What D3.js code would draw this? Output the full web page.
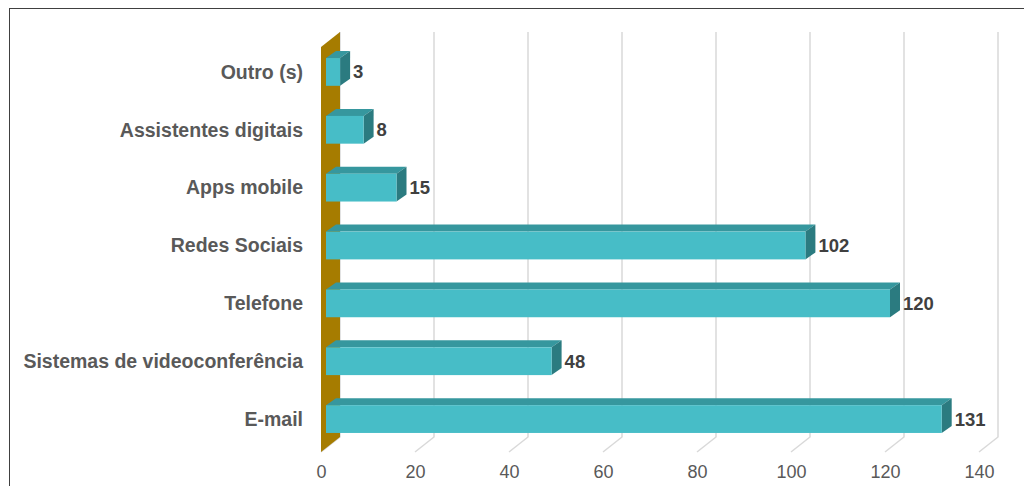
<!DOCTYPE html>
<html><head><meta charset="utf-8">
<script src="https://cdn.jsdelivr.net/npm/d3@7"></script>
<style>html,body{margin:0;padding:0;background:#fff;}svg{display:block;}</style>
</head><body>
<svg id="chart" width="1024" height="486"></svg>
<script>
const categories = ["Outro (s)", "Assistentes digitais", "Apps mobile", "Redes Sociais", "Telefone", "Sistemas de videoconferência", "E-mail"];
const values = [3, 8, 15, 102, 120, 48, 131];
const ticks = [0, 20, 40, 60, 80, 100, 120, 140];

const svg = d3.select("#chart");
const FONT = "'Liberation Sans', Arial, sans-serif";
svg.append("rect").attr("x", 9.5).attr("y", 8.5).attr("width", 1030).attr("height", 500)
  .attr("fill", "#fff").attr("stroke", "#404040").attr("stroke-width", 1);

// front plane geometry
const x = d3.scaleLinear().domain([0, 140]).range([321, 321 + 140 * 4.7]);
const y = d3.scaleBand().domain(categories).range([47, 452]).paddingInner(0.52).paddingOuter(0.26);
const depth = {dx: 19, dy: -15};      // wall depth
const barOff = {dx: 5, dy: -4};       // bar front offset from front plane
const barDepth = {dx: 10, dy: -7};    // bar depth
const yTop = 47, yBot = 452;

// gridlines (back plane + floor)
const g = svg.append("g");
ticks.forEach(t => {
  const xf = x(t), xb = x(t) + depth.dx;
  g.append("path")
    .attr("d", `M${xb},${yTop + depth.dy} L${xb},${yBot + depth.dy} L${xf},${yBot}`)
    .attr("fill", "none").attr("stroke", "#d9d9d9").attr("stroke-width", 1.5);
});

// wall
svg.append("path")
  .attr("d", `M${x(0)},${yTop} L${x(0) + depth.dx},${yTop + depth.dy} L${x(0) + depth.dx},${yBot + depth.dy} L${x(0)},${yBot} Z`)
  .attr("fill", "#a67c00");

// bars
const bars = svg.append("g");
categories.forEach((c, i) => {
  const v = values[i];
  const x0 = x(0) + barOff.dx, x1 = x(v) + barOff.dx;
  const y0 = y(c) + barOff.dy, y1 = y0 + y.bandwidth();
  const dx = barDepth.dx, dy = barDepth.dy;
  bars.append("path").attr("d", `M${x0},${y0} L${x0 + dx},${y0 + dy} L${x1 + dx},${y0 + dy} L${x1},${y0} Z`).attr("fill", "#36979e");
  bars.append("path").attr("d", `M${x1},${y0} L${x1 + dx},${y0 + dy} L${x1 + dx},${y1 + dy} L${x1},${y1} Z`).attr("fill", "#2b7b80");
  bars.append("rect").attr("x", x0).attr("y", y0).attr("width", x1 - x0).attr("height", y.bandwidth()).attr("fill", "#47bdc7");
  bars.append("text").attr("x", x1 + dx + 3).attr("y", y0 + y.bandwidth() / 2)
    .attr("dy", "0.35em").attr("font-family", FONT)
    .attr("font-weight", "bold").attr("font-size", 18.5).attr("fill", "#404040").text(v);
  svg.append("text").attr("x", 303).attr("y", y0 + y.bandwidth() / 2)
    .attr("dy", "0.35em").attr("text-anchor", "end")
    .attr("font-family", FONT)
    .attr("font-weight", "bold").attr("font-size", 19.5).attr("fill", "#595959").text(c);
});

// x axis tick labels
const axis = d3.axisBottom(x).tickValues(ticks).tickSize(0).tickPadding(0);
const ax = svg.append("g").attr("transform", `translate(0,${465})`).call(axis);
ax.select(".domain").remove();
ax.selectAll("text").attr("font-family", FONT)
  .attr("font-size", 18).attr("fill", "#595959");
</script>
</body></html>
